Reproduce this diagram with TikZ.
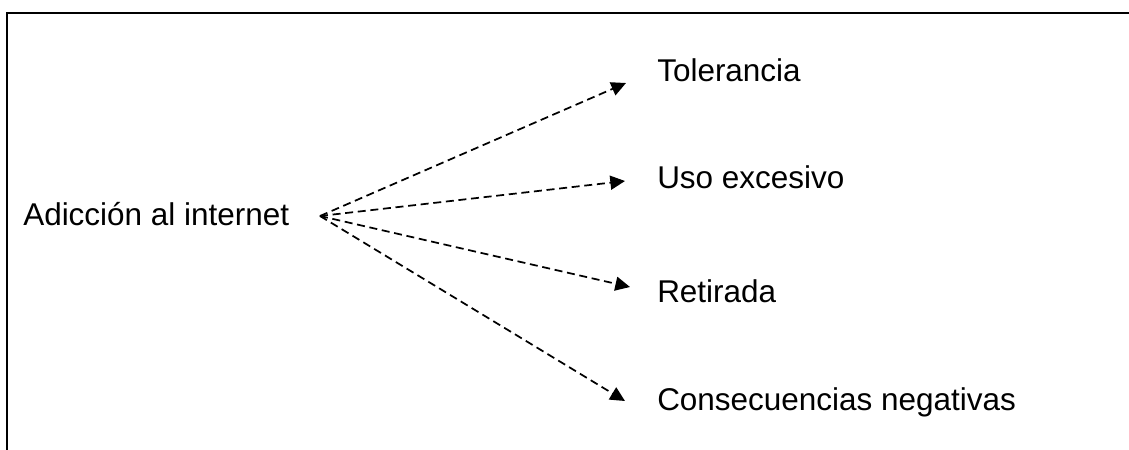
\documentclass[tikz,border=0pt]{standalone}
\usepackage{fontspec}
\setmainfont{Liberation Sans}
\usetikzlibrary{arrows.meta}
\begin{document}
\begin{tikzpicture}[x=0.75pt,y=-0.75pt,
  lbl/.style={anchor=base west,inner sep=0pt,font=\fontsize{23.6pt}{28pt}\selectfont},
  link/.style={line width=1.3pt,dash pattern=on 6pt off 3.5pt,
    -{Triangle[length=11pt,width=10.5pt]}},
  frame/.style={line width=1.8pt}]
\useasboundingbox (0,0) rectangle (1129,450);
\draw[frame] (7,451) -- (7,13) -- (1130,13);
\node[lbl] (src) at (23,225) {Adicción al internet};
\node[lbl] (tol) at (657,81) {Tolerancia};
\node[lbl] (uso) at (657,188) {Uso excesivo};
\node[lbl] (ret) at (657,302) {Retirada};
\node[lbl] (con) at (657,410) {Consecuencias negativas};
\coordinate (o) at (320,216);
\coordinate (tTol) at (626,83);
\coordinate (tUso) at (625,181);
\coordinate (tRet) at (630,287);
\coordinate (tCon) at (625,401);
\draw[link] (o) -- (tTol);
\draw[link] (o) -- (tUso);
\draw[link] (o) -- (tRet);
\draw[link] (o) -- (tCon);
\end{tikzpicture}
\end{document}
